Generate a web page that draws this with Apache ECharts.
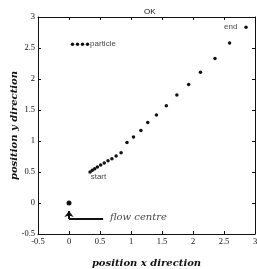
<!DOCTYPE html>
<html>
<head>
<meta charset="utf-8">
<script src="https://cdn.jsdelivr.net/npm/echarts@6/dist/echarts.min.js"></script>
<style>html,body{margin:0;padding:0;background:#fff}#c{width:257px;height:269px}</style>
</head>
<body>
<div id="c"></div>
<script>
// particle trajectory (position x, position y)
const trajX = [0.34,0.376,0.415,0.458,0.511,0.569,0.629,0.692,0.760,0.840,0.935,1.04,1.16,1.27,1.41,1.57,1.74,1.93,2.12,2.355,2.59,2.855];
const trajY = [0.50,0.527,0.553,0.58,0.613,0.645,0.68,0.715,0.758,0.81,0.975,1.065,1.17,1.30,1.42,1.57,1.74,1.91,2.11,2.33,2.58,2.835];
// flow centre
const centreX = [0];
const centreY = [0];
// legend sample dots
const legendX = [0.056,0.137,0.218,0.298];
const legendY = [2.56,2.56,2.56,2.56];
// annotations
const noteText = ['particle','end','start','flow centre'];
const noteX = [0.34,2.5,0.35,0.66];
const noteY = [2.56,2.84,0.415,-0.24];
// axis settings
const xTicks = {min:-0.5,max:3,interval:0.5};
const yTicks = {min:-0.5,max:3,interval:0.5};

const ink = '#111';
const chart = echarts.init(document.getElementById('c'), null, {renderer:'canvas'});
const lab = {fontFamily:'Liberation Serif', fontSize:8.5, color:ink};
function axisBase(extra){
  return Object.assign({
    type:'value', splitLine:{show:false},
    axisLine:{show:true, onZero:false, lineStyle:{color:ink,width:1}},
    axisTick:{show:true, inside:true, length:3, lineStyle:{color:ink}},
  }, extra);
}
const axName = {fontFamily:'DejaVu Serif', fontStyle:'italic', fontWeight:'bold', fontSize:10, color:ink};
const noteFonts = [
  {fontFamily:'Liberation Sans', fontSize:8, color:ink},
  {fontFamily:'Liberation Sans', fontSize:8, color:ink},
  {fontFamily:'Liberation Sans', fontSize:8, color:ink},
  {fontFamily:'DejaVu Serif', fontStyle:'italic', fontSize:10, color:ink}
];
chart.setOption({
  animation:false,
  backgroundColor:'#fff',
  title:{text:'OK', left:139, top:3, textStyle:{fontFamily:'Liberation Sans', fontSize:8, fontWeight:'normal', color:ink}},
  grid:{left:38, right:2, top:17, bottom:35, containLabel:false, outerBoundsMode:'none'},
  xAxis:[
    axisBase(Object.assign({position:'bottom', axisLabel:Object.assign({margin:3}, lab),
      name:'position x direction', nameLocation:'middle', nameGap:24, nameMoveOverlap:false, nameTextStyle:axName}, xTicks)),
    axisBase(Object.assign({position:'top', axisLabel:{show:false}}, xTicks))
  ],
  yAxis:[
    axisBase(Object.assign({position:'left', axisLabel:Object.assign({margin:3}, lab),
      name:'position y direction', nameLocation:'middle', nameGap:19, nameMoveOverlap:false, nameTextStyle:axName}, yTicks)),
    axisBase(Object.assign({position:'right', axisLabel:{show:false}}, yTicks))
  ],
  series:[
    {type:'scatter', name:'particle', symbol:'circle', symbolSize:3.5, itemStyle:{color:ink, opacity:1},
      data:trajX.map((x,i)=>[x,trajY[i]])},
    {type:'scatter', name:'legend', symbol:'circle', symbolSize:3.5, itemStyle:{color:ink, opacity:1},
      data:legendX.map((x,i)=>[x,legendY[i]])},
    {type:'scatter', name:'centre', symbol:'circle', symbolSize:5, itemStyle:{color:ink, opacity:1},
      data:centreX.map((x,i)=>[x,centreY[i]]),
      markLine:{silent:true, symbol:['none','none'], label:{show:false},
        lineStyle:{color:ink, width:2, type:'solid'},
        data:[
          [{coord:[0.55,-0.26]},{coord:[0,-0.26]}],
          [{coord:[0,-0.26]},{coord:[0,-0.13], symbol:'arrow', symbolSize:[7,6]}]
        ]}},
    {type:'scatter', name:'notes', symbolSize:0,
      data:noteText.map((t,i)=>({name:t, value:[noteX[i],noteY[i]],
        label:Object.assign({show:true, position:[0,0], align:'left', verticalAlign:'middle', formatter:t}, noteFonts[i])}))}
  ]
});
</script>
</body>
</html>
